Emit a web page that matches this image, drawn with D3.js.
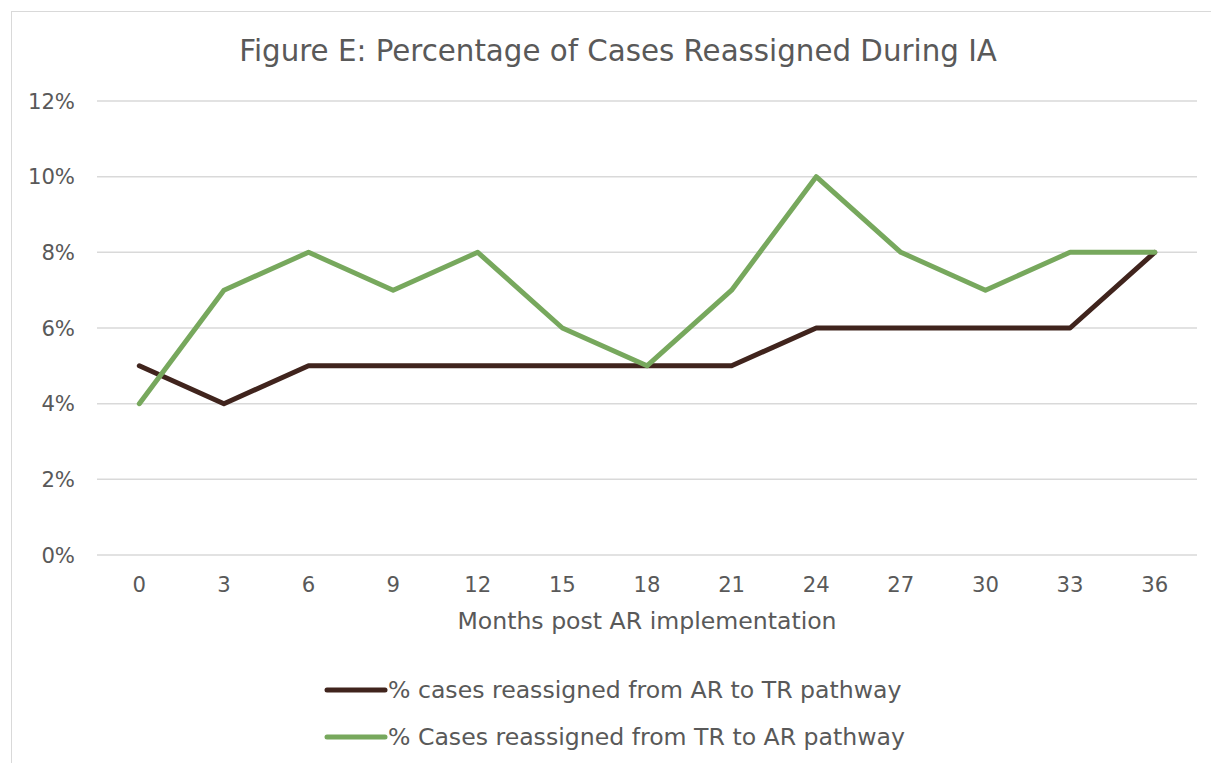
<!DOCTYPE html>
<html><head><meta charset="utf-8">
<script src="https://cdn.jsdelivr.net/npm/d3@7"></script>
<style>body{margin:0;background:#fff;}svg{display:block;font-family:"DejaVu Sans",sans-serif;}</style>
</head><body><svg id="c" width="1211" height="763"></svg>
<script>
const months = [0,3,6,9,12,15,18,21,24,27,30,33,36];
const arToTr = [5,4,5,5,5,5,5,5,6,6,6,6,8];
const trToAr = [4,7,8,7,8,6,5,7,10,8,7,8,8];
const yTicks = [0,2,4,6,8,10,12];
const seriesNames = ["% cases reassigned from AR to TR pathway","% Cases reassigned from TR to AR pathway"];
const colors = ["#40241d","#77a85d"];
const title = "Figure E: Percentage of Cases Reassigned During IA";
const xTitle = "Months post AR implementation";

const svg = d3.select("#c");
svg.append("rect").attr("x",11.5).attr("y",11.5).attr("width",1300).attr("height",800)
  .attr("fill","#fff").attr("stroke","#d9d9d9").attr("stroke-width",1);

const x = d3.scaleBand().domain(months).range([97,1197]);
const y = d3.scaleLinear().domain([0,12]).range([555,101]);

svg.append("g").selectAll("line").data(yTicks).join("line")
  .attr("x1",97).attr("x2",1197).attr("y1",d=>y(d)).attr("y2",d=>y(d))
  .attr("stroke","#d9d9d9").attr("stroke-width",1.5);

svg.append("g").selectAll("text").data(yTicks).join("text")
  .attr("x",75).attr("y",d=>y(d)).attr("dy","0.36em").attr("text-anchor","end")
  .attr("fill","#595959").attr("font-size",21.2).text(d=>d+"%");

svg.append("g").selectAll("text").data(months).join("text")
  .attr("x",d=>x(d)+x.bandwidth()/2).attr("y",584).attr("dy","0.36em").attr("text-anchor","middle")
  .attr("fill","#595959").attr("font-size",21.2).text(d=>d);

svg.append("text").attr("x",618).attr("y",50).attr("dy","0.36em").attr("text-anchor","middle")
  .attr("fill","#595959").attr("font-size",29.3).text(title);
svg.append("text").attr("x",647).attr("y",621).attr("dy","0.36em").attr("text-anchor","middle")
  .attr("fill","#595959").attr("font-size",23.6).text(xTitle);

const line = d3.line().x((d,i)=>x(months[i])+x.bandwidth()/2).y(d=>y(d));
[arToTr,trToAr].forEach((s,k)=>{
  svg.append("path").datum(s).attr("d",line).attr("fill","none")
    .attr("stroke",colors[k]).attr("stroke-width",5).attr("stroke-linejoin","round").attr("stroke-linecap","round");
});

const leg = svg.append("g");
seriesNames.forEach((n,k)=>{
  const yy = 690 + k*47;
  leg.append("line").attr("x1",327).attr("x2",385).attr("y1",yy).attr("y2",yy)
    .attr("stroke",colors[k]).attr("stroke-width",5).attr("stroke-linecap","round");
  leg.append("text").attr("x",388).attr("y",yy).attr("dy","0.36em").attr("fill","#595959")
    .attr("font-size",23.6).text(n);
});
</script></body></html>
